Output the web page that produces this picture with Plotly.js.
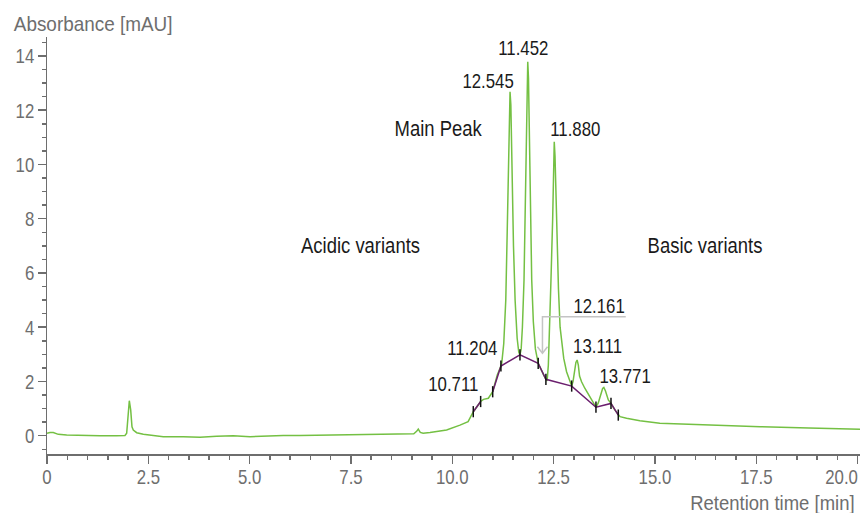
<!DOCTYPE html>
<html>
<head>
<meta charset="utf-8">
<script src="https://cdn.plot.ly/plotly-3.0.1.min.js"></script>
<style>
html,body{margin:0;padding:0;background:#fff;}
#chart{width:862px;height:513px;}
</style>
</head>
<body>
<div id="chart"></div>
<script>
// ---- data ----
var timeMin = [
  0.0, 0.074, 0.155, 0.279, 0.486, 0.896, 1.308, 1.72, 1.924, 1.966, 2.006, 2.031, 2.065, 2.097, 2.129, 2.213, 2.376,
  2.623, 2.869, 3.363, 3.775, 4.187, 4.597, 5.009, 5.421, 5.83, 6.24, 6.8, 7.4, 8.0, 8.6, 9.05, 9.12, 9.16, 9.21, 9.28,
  9.45, 9.86, 10.19, 10.39, 10.52, 10.6, 10.70, 10.77, 10.89, 10.997, 11.03, 11.11, 11.20, 11.22,
  11.27, 11.32, 11.355, 11.38, 11.405, 11.425, 11.445, 11.47, 11.51, 11.55, 11.60, 11.64, 11.67,
  11.70, 11.73, 11.77, 11.80, 11.826, 11.845, 11.862, 11.88, 11.90, 11.92, 11.96, 12.00, 12.05, 12.12, 12.18, 12.25, 12.31,
  12.34, 12.37, 12.40, 12.435, 12.477, 12.50, 12.516, 12.535, 12.56, 12.59, 12.62, 12.66, 12.71, 12.75, 12.82, 12.946,
  12.98, 13.02, 13.05, 13.08, 13.11, 13.14, 13.19, 13.27, 13.44, 13.545,
  13.60, 13.66, 13.71, 13.74, 13.78, 13.85, 13.916, 14.01, 14.096, 14.14, 14.30, 14.63, 15.12, 16.36, 17.6, 18.8, 20.06
];
var absorbance = [
  0.09, 0.12, 0.12, 0.05, 0.03, 0.01, 0.0, 0.0, 0.01, 0.09, 0.95, 1.29, 0.95, 0.33, 0.21, 0.11, 0.05,
  0.01, -0.04, -0.04, -0.06, -0.02, 0.0, -0.04, -0.01, 0.01, 0.01, 0.02, 0.02, 0.04, 0.05, 0.07, 0.16, 0.24, 0.12, 0.09,
  0.12, 0.21, 0.39, 0.52, 0.885, 1.05, 1.26, 1.34, 1.38, 1.62, 1.81, 2.24, 2.57, 2.67,
  3.4, 5.0, 7.5, 10.0, 12.2, 12.68, 12.2, 10.0, 7.0, 5.0, 3.6, 3.08, 2.98,
  3.2, 4.0, 5.74, 8.5, 11.0, 13.2, 13.79, 13.2, 11.5, 9.5, 5.74, 4.2, 3.2, 2.67, 2.45, 2.25, 2.08,
  2.02, 2.6, 3.8, 5.74, 8.0, 10.3, 10.84, 10.3, 8.8, 7.2, 5.4, 4.0, 3.2, 2.85, 2.36, 1.83,
  2.0, 2.4, 2.7, 2.79, 2.6, 2.2, 1.99, 1.75, 1.32, 1.05,
  1.2, 1.5, 1.74, 1.78, 1.65, 1.32, 1.19, 0.95, 0.76, 0.70, 0.64, 0.55, 0.46, 0.39, 0.33, 0.28, 0.24
];
// integration baseline (drop points); null separates the two segments
var baselineTime = [10.518, 10.70, null, 10.997, 11.20, 11.67, 12.12, 12.31, 12.946, 13.545, 13.916, 14.096];
var baselineAbs  = [0.885, 1.26, null, 1.62, 2.57, 2.98, 2.67, 2.08, 1.83, 1.05, 1.19, 0.76];

var xTickVals = [0, 2.5, 5, 7.5, 10, 12.5, 15, 17.5, 20];
var xTickText = ["0", "2.5", "5.0", "7.5", "10.0", "12.5", "15.0", "17.5", "20.0"];
var yTickVals = [0, 2, 4, 6, 8, 10, 12, 14];
var yTickText = ["0", "2", "4", "6", "8", "10", "12", "14"];

var peakTexts = ["11.452", "12.545", "11.880", "12.161", "13.111", "13.771", "11.204", "10.711"];
var regionTexts = ["Main Peak", "Acidic variants", "Basic variants"];
var yTitle = "Absorbance [mAU]";
var xTitle = "Retention time [min]";

// ---- styling ----
var FONT = "'Liberation Sans', Arial, sans-serif";
var GRAY = "#6e6e6e";
var INK = "#1a1a1a";

var traces = [
  {x: timeMin, y: absorbance, type: "scatter", mode: "lines",
   line: {color: "#74c043", width: 1.5}, hoverinfo: "skip"},
  {x: baselineTime, y: baselineAbs, type: "scatter", mode: "lines+markers", connectgaps: false,
   line: {color: "#6b1f6e", width: 1.5},
   marker: {symbol: "line-ns", size: 8, line: {color: "#111", width: 1.5}, color: "#111"},
   hoverinfo: "skip"}
];

function lab(text, x, y, size) {
  return {text: text, x: x, y: y, xref: "x", yref: "y", showarrow: false,
          xanchor: "center", yanchor: "middle",
          font: {family: FONT, size: size, color: INK}};
}

var annotations = [
  lab(peakTexts[0], 11.756, 14.31, 21),
  lab(peakTexts[1], 10.874, 13.10, 21),
  lab(peakTexts[2], 13.045, 11.31, 21),
  lab(peakTexts[3], 13.613, 4.80, 21),
  lab(peakTexts[4], 13.583, 3.31, 21),
  lab(peakTexts[5], 14.258, 2.21, 21),
  lab(peakTexts[6], 10.487, 3.25, 21),
  lab(peakTexts[7], 10.037, 1.91, 21),
  lab(regionTexts[0], 9.665, 11.33, 22.5),
  lab(regionTexts[1], 7.747, 7.03, 22.5),
  lab(regionTexts[2], 16.235, 7.03, 22.5),
  {text: yTitle, xref: "paper", yref: "paper", x: 0.056, y: 1.033, xanchor: "center", yanchor: "middle",
   showarrow: false, font: {family: FONT, size: 21, color: GRAY}},
  {text: xTitle, xref: "paper", yref: "paper", x: 0.8924, y: -0.117, xanchor: "center", yanchor: "middle",
   showarrow: false, font: {family: FONT, size: 21, color: GRAY}}
];

var shapes = [
  {type: "path", xref: "x", yref: "y",
   path: "M 14.28 4.39 L 12.225 4.39 L 12.225 3.06",
   line: {color: "#c4c4c4", width: 1.5}},
  {type: "path", xref: "x", yref: "y",
   path: "M 12.10 3.28 L 12.225 3.04 L 12.35 3.28",
   line: {color: "#c4c4c4", width: 1.5}}
];

var axisCommon = {
  showgrid: false, zeroline: false, showline: true, linecolor: GRAY, linewidth: 1.5,
  ticks: "outside", ticklen: 8, tickwidth: 1.5, tickcolor: GRAY,
  tickfont: {family: FONT, size: 21, color: GRAY},
  ticklabeloverflow: "allow",
  fixedrange: true
};

var layout = {
  width: 862, height: 513,
  margin: {l: 47, r: 2, t: 37, b: 59},
  paper_bgcolor: "#ffffff", plot_bgcolor: "#ffffff",
  showlegend: false,
  xaxis: Object.assign({}, axisCommon, {
    range: [0, 20.06], tickmode: "array", tickvals: xTickVals, ticktext: xTickText,
    ticklabelstandoff: -5,
    minor: {tick0: 0, dtick: 0.5, ticks: "outside", ticklen: 4, tickwidth: 1.5, tickcolor: GRAY}
  }),
  yaxis: Object.assign({}, axisCommon, {
    range: [-0.675, 14.70], tickmode: "array", tickvals: yTickVals, ticktext: yTickText,
    ticklabelstandoff: -1,
    minor: {tick0: 0, dtick: 0.5, ticks: "outside", ticklen: 4, tickwidth: 1.5, tickcolor: GRAY}
  }),
  annotations: annotations,
  shapes: shapes
};

// the reference uses a condensed typeface: narrow the rendered glyphs to match
function condense() {
  var texts = document.querySelectorAll("#chart svg text");
  texts.forEach(function (t) {
    var s = t.textContent;
    if (!s) return;
    var f = 0.80;
    if (s === yTitle) f = 0.90;
    else if (s === xTitle) f = 0.88;
    else if (/[a-z]/i.test(s)) f = 0.82;
    var L = t.getComputedTextLength();
    if (L > 0) {
      t.setAttribute("textLength", (L * f).toFixed(2));
      t.setAttribute("lengthAdjust", "spacingAndGlyphs");
    }
  });
  // last x tick label is pulled inside the figure, as in the reference
  var last = xTickText[xTickText.length - 1];
  document.querySelectorAll("#chart svg .xtick text").forEach(function (t) {
    if (t.textContent === last) t.setAttribute("dx", "-16");
  });
}

Plotly.newPlot("chart", traces, layout, {displayModeBar: false, staticPlot: true}).then(condense);
</script>
</body>
</html>
